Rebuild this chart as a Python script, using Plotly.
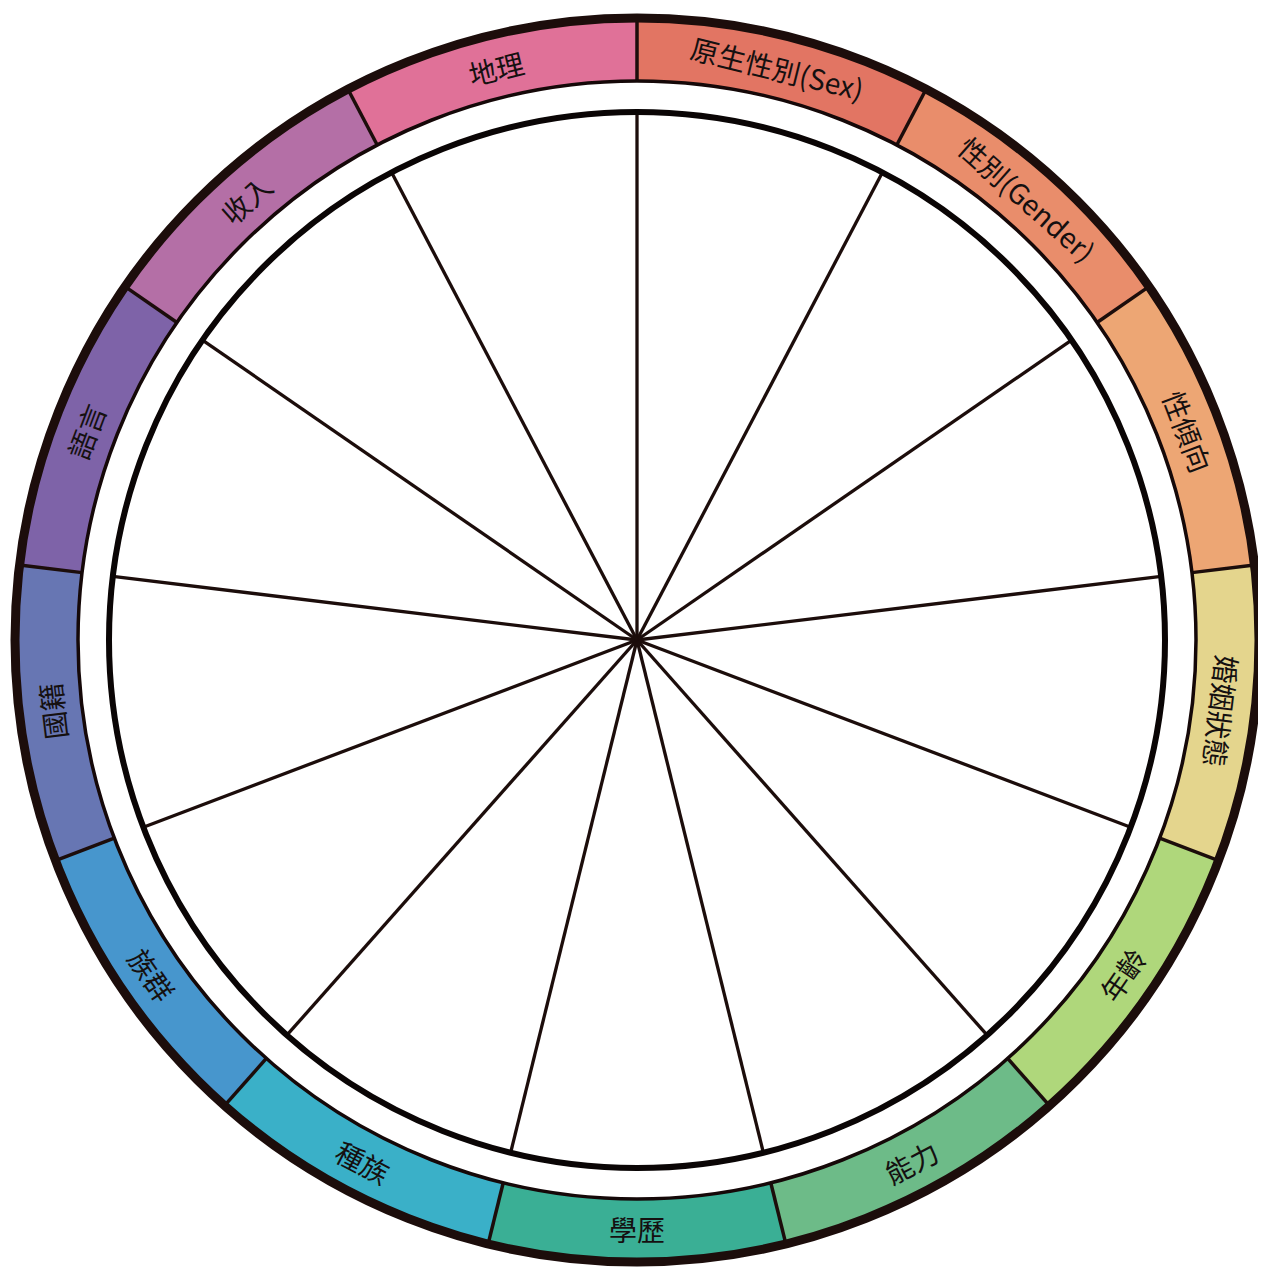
import math
import plotly.graph_objects as go

# ---- data ----
categories = ["原生性別(Sex)", "性別(Gender)", "性傾向", "婚姻狀態", "年齡", "能力", "學歷",
              "種族", "族群", "國籍", "語言", "收入", "地理"]
segment_colors = ["#E27563", "#E98D6B", "#EDA674", "#E4D58D", "#AFD77B", "#6DBB88", "#3AAF95",
                  "#3AB0C8", "#4796CD", "#6776B3", "#7E63A8", "#B46FA6", "#E07198"]

# ---- geometry (style) ----
R_OUT = 622      # outer border radius
R_BAND_IN = 559  # inner edge of the coloured band
R_INNER = 528    # inner circle
R_LABEL = 589
DARK = "#1C0D0B"
N = len(categories)
STEP = 360.0 / N


def pt(r, deg):
    a = math.radians(deg)
    return r * math.sin(a), r * math.cos(a)


fig = go.Figure()

# coloured band segments
for i, (cat, col) in enumerate(zip(categories, segment_colors)):
    a0, a1 = i * STEP, (i + 1) * STEP
    xs, ys = [], []
    n = 40
    for k in range(n + 1):
        x, y = pt(R_OUT, a0 + (a1 - a0) * k / n)
        xs.append(x); ys.append(y)
    for k in range(n + 1):
        x, y = pt(R_BAND_IN, a1 - (a1 - a0) * k / n)
        xs.append(x); ys.append(y)
    fig.add_trace(go.Scatter(x=xs, y=ys, fill="toself", fillcolor=col, mode="lines",
                             line=dict(width=0), hoverinfo="text", text=cat, showlegend=False))

# segment boundaries in the band
bx, by = [], []
for i in range(N):
    x0, y0 = pt(R_BAND_IN, i * STEP)
    x1, y1 = pt(R_OUT, i * STEP)
    bx += [x0, x1, None]; by += [y0, y1, None]
fig.add_trace(go.Scatter(x=bx, y=by, mode="lines", line=dict(color=DARK, width=3.5),
                         hoverinfo="skip", showlegend=False))

# spokes
sx, sy = [], []
for i in range(N):
    x1, y1 = pt(R_INNER, i * STEP)
    sx += [0, x1, None]; sy += [0, y1, None]
fig.add_trace(go.Scatter(x=sx, y=sy, mode="lines", line=dict(color=DARK, width=3.3),
                         hoverinfo="skip", showlegend=False))


def circle(r, w, c):
    fig.add_shape(type="circle", xref="x", yref="y", x0=-r, x1=r, y0=-r, y1=r,
                  line=dict(color=c, width=w), layer="above")


circle(R_OUT, 9, DARK)
circle(R_BAND_IN, 3.5, "#150808")
circle(R_INNER, 6, "#0A0505")

# labels
for i, cat in enumerate(categories):
    th = (i + 0.5) * STEP
    x, y = pt(R_LABEL, th)
    if th < 110:
        ang = th
    elif th < 250:
        ang = th - 180
    else:
        ang = th - 360
    fig.add_annotation(x=x, y=y, xref="x", yref="y", text=cat, showarrow=False,
                       textangle=ang, xanchor="center", yanchor="middle",
                       font=dict(family="Noto Sans CJK TC, Noto Sans", size=28, color="#151010"))

W, H = 1266, 1269
CX, CY = 629, 632   # centre position inside the figure (page adds an 8px body margin)
fig.update_xaxes(range=[-CX, W - CX], visible=False, fixedrange=True)
fig.update_yaxes(range=[-(H - CY), CY], visible=False, fixedrange=True)
fig.update_layout(width=W, height=H, margin=dict(l=0, r=0, t=0, b=0),
                  plot_bgcolor="white", paper_bgcolor="white", showlegend=False)

fig.write_html("out.html")
